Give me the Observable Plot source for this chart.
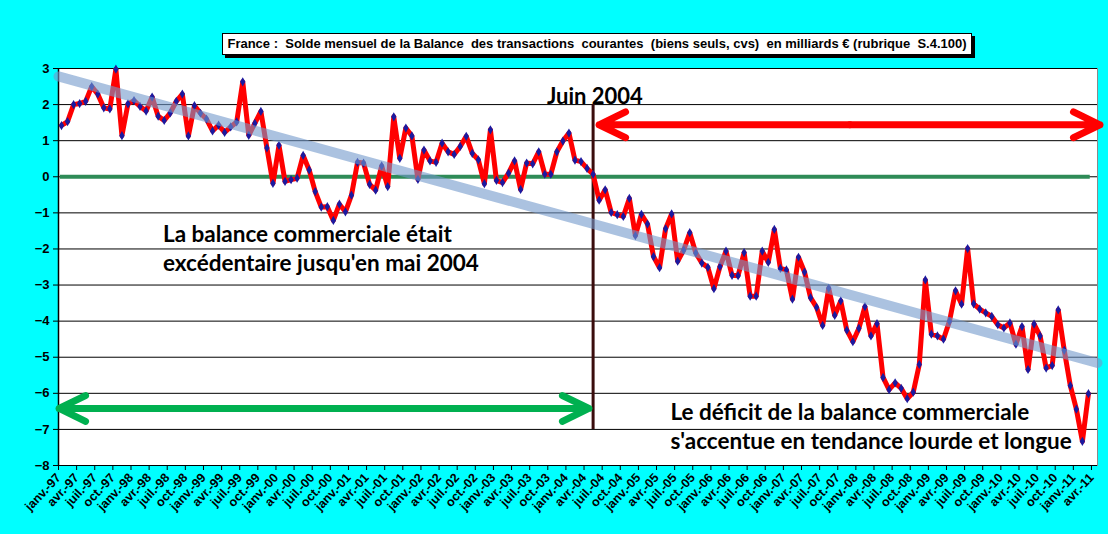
<!DOCTYPE html>
<html><head><meta charset="utf-8">
<script src="https://cdn.jsdelivr.net/npm/d3@7"></script>
<script src="https://cdn.jsdelivr.net/npm/@observablehq/plot@0.6"></script>
<style>
html,body{margin:0;padding:0;background:#00ffff;}
#wrap{position:relative;width:1108px;height:534px;overflow:hidden;}
#title{position:absolute;left:222px;top:33px;width:748px;height:20px;background:#fff;border:1px solid #000;box-shadow:3px 3px 0 #000;
font-family:"Liberation Sans",Arial,sans-serif;font-weight:bold;font-size:13px;line-height:20px;text-align:center;white-space:pre;color:#000;}
svg{display:block;}
</style>
</head><body>
<div id="wrap"><div id="chart"></div><div id="title"></div></div>
<script>
// ---- Data ----
const titleText = "France :  Solde mensuel de la Balance  des transactions  courantes  (biens seuls, cvs)  en milliards € (rubrique  S.4.100)";
const monthNames = ["janv.","févr.","mars","avr.","mai","juin","juil.","août","sept.","oct.","nov.","déc."];
const years = ["97","98","99","00","01","02","03","04","05","06","07","08","09","10","11"];
// monthly balance, janv-97 .. mars-11 (billions €)
const values = [
 1.42, 1.53, 2.00, 2.03, 2.09, 2.50, 2.29, 1.91, 1.88, 2.98, 1.14, 2.02,
 2.11, 1.95, 1.82, 2.21, 1.68, 1.56, 1.77, 2.09, 2.29, 1.13, 1.97, 1.76,
 1.60, 1.27, 1.43, 1.23, 1.38, 1.52, 2.63, 1.15, 1.48, 1.81, 0.80, -0.18,
 0.87, -0.13, -0.08, -0.04, 0.59, 0.19, -0.41, -0.84, -0.83, -1.21, -0.76, -0.97,
 -0.51, 0.40, 0.38, -0.21, -0.37, 0.30, -0.27, 1.66, 0.51, 1.35, 1.13, -0.07,
 0.74, 0.44, 0.40, 0.93, 0.69, 0.62, 0.84, 1.12, 0.65, 0.47, -0.19, 1.30,
 -0.10, -0.16, 0.10, 0.44, -0.35, 0.38, 0.36, 0.69, 0.07, 0.07, 0.69, 0.99,
 1.21, 0.46, 0.42, 0.23, 0.07, -0.65, -0.36, -0.99, -1.05, -1.10, -0.60, -1.63,
 -1.04, -1.31, -2.21, -2.52, -1.44, -1.03, -2.34, -2.03, -1.55, -2.11, -2.39, -2.51,
 -3.10, -2.49, -2.06, -2.73, -2.74, -2.10, -3.31, -3.31, -2.06, -2.37, -1.46, -2.54,
 -2.58, -3.39, -2.23, -2.64, -3.35, -3.62, -4.12, -3.09, -3.84, -3.44, -4.25, -4.57,
 -4.20, -3.60, -4.41, -4.07, -5.56, -5.90, -5.71, -5.86, -6.15, -5.97, -5.20, -2.86,
 -4.36, -4.41, -4.50, -4.00, -3.16, -3.53, -1.99, -3.52, -3.67, -3.77, -3.87, -4.10,
 -4.19, -4.05, -4.64, -4.15, -5.34, -4.08, -4.41, -5.30, -5.23, -3.69, -4.81, -5.79,
 -6.44, -7.33, -6.01
];
const nCategories = 172; // janv-97 .. avr-11
const yTicks = [-8,-7,-6,-5,-4,-3,-2,-1,0,1,2,3];
// trend line at start/end of category axis
const trendIdx = [0, 172];
const trendVal = [2.78, -5.16];

// ---- Annotations ----
const vline = [{x: 88.5, y1: -7, y2: 2}];
const zeroLine = [{y: 0, x1: 0.3, x2: 170.8}];
const arrowsGreen = [{x1: 44, x2: 0.1, y: -6.42}, {x1: 44, x2: 87.8, y: -6.42}];
const arrowsRed = [{x1: 131, x2: 89.5, y: 1.44}, {x1: 131, x2: 172.4, y: 1.44}];
const notes = [
 {x: 17.3, y: -1.62, t: "La balance commerciale était"},
 {x: 17.3, y: -2.40, t: "excédentaire jusqu'en mai 2004"},
 {x: 101.3, y: -6.55, t: "Le déficit de la balance commerciale"},
 {x: 101.3, y: -7.33, t: "s'accentue en tendance lourde et longue"}
];
const juin = [{x: 88.8, y: 2.22, t: "Juin 2004"}];

// ---- Build ----
const labels = [];
for (let i = 0; i < nCategories; i++) labels.push(monthNames[i % 12] + "-" + years[Math.floor(i / 12)]);
const series = values.map((v, i) => ({x: i + 0.5, v}));
const trend = trendIdx.map((x, i) => ({x, v: trendVal[i]}));
const xTicks = d3.range(0, nCategories, 3);

document.getElementById("title").textContent = titleText;

const font = "Lato, 'Open Sans', sans-serif";
const chart = Plot.plot({
  width: 1108, height: 534,
  marginTop: 68, marginLeft: 58, marginRight: 11, marginBottom: 69,
  x: {domain: [0, nCategories]},
  y: {domain: [-8, 3]},
  style: {background: "transparent", fontFamily: "'Liberation Sans', Arial, sans-serif", color: "#000", overflow: "visible"},
  marks: [
    Plot.frame({fill: "#fff", stroke: "#8a8a8a"}),
    Plot.ruleY(yTicks, {stroke: "#000", strokeWidth: 1}),
    Plot.ruleX([0], {stroke: "#000", strokeWidth: 1.5}),
    Plot.ruleY(zeroLine, {y: "y", x1: "x1", x2: "x2", stroke: "#2e8b57", strokeWidth: 4}),
    Plot.ruleX(vline, {x: "x", y1: "y1", y2: "y2", stroke: "#3a0c0c", strokeWidth: 3}),
    Plot.line(series, {x: "x", y: "v", stroke: "#ff0000", strokeWidth: 5, strokeLinejoin: "round"}),
    Plot.dot(series, {x: "x", y: "v", symbol: "diamond", r: 2.8, fill: "#1a1aa0", stroke: "none"}),
    Plot.line(trend, {x: "x", y: "v", stroke: "#7399cc", strokeOpacity: 0.6, strokeWidth: 10}),
    Plot.arrow(arrowsGreen, {x1: "x1", x2: "x2", y1: "y", y2: "y", stroke: "#00b050", strokeWidth: 7, headLength: 6.3, headAngle: 52, strokeLinecap: "round", strokeLinejoin: "round"}),
    Plot.arrow(arrowsRed, {x1: "x1", x2: "x2", y1: "y", y2: "y", stroke: "#ff0000", strokeWidth: 7, headLength: 6.3, headAngle: 52, strokeLinecap: "round", strokeLinejoin: "round"}),
    Plot.text(notes, {x: "x", y: "y", text: "t", textAnchor: "start", fontSize: 22.5, fontWeight: "bold", fontFamily: font, fill: "#000"}),
    Plot.text(juin, {x: "x", y: "y", text: "t", textAnchor: "middle", fontSize: 22, fontWeight: "bold", fontFamily: font, fill: "#000"}),
    Plot.axisY({ticks: yTicks, tickSize: 5, tickPadding: 4, fontSize: 13, fontWeight: "bold", label: null}),
    Plot.axisX({ticks: xTicks, tickFormat: i => labels[i], tickRotate: -47, tickSize: 5, tickPadding: 5, fontSize: 12.5, fontWeight: "bold", label: null})
  ]
});
document.getElementById("chart").appendChild(chart);
</script>
</body></html>
